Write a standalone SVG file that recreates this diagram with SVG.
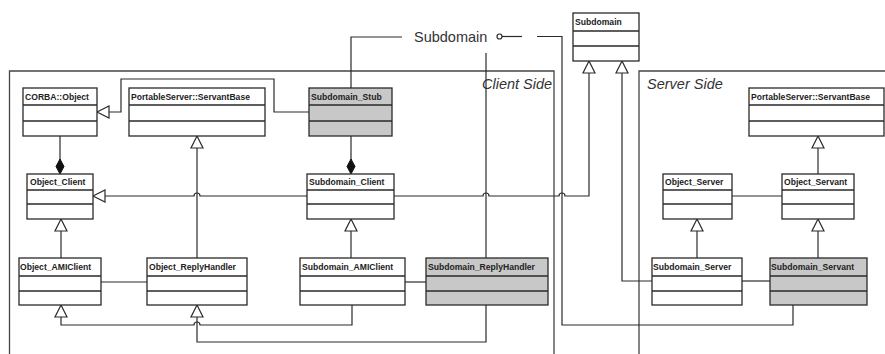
<svg xmlns="http://www.w3.org/2000/svg" width="885" height="354" viewBox="0 0 885 354">
  <style>
    .box { fill: #ffffff; stroke: #2a2a2a; stroke-width: 1.3; }
    .stub { fill: #c8c8c8; }
    .div { stroke: #2a2a2a; stroke-width: 1.3; fill: none; }
    .name { font-family: "Liberation Sans", Arial, sans-serif; font-weight: bold; font-size: 8.6px; fill: #222; }
    .line { fill: none; stroke: #2a2a2a; stroke-width: 1.2; }
    .frame { fill: none; stroke: #444; stroke-width: 1.3; }
    .gen { fill: #ffffff; stroke: #2a2a2a; stroke-width: 1.2; }
    .comp { fill: #111; stroke: #111; stroke-width: 1; }
    .side { font-family: "Liberation Sans", Arial, sans-serif; font-style: italic; font-size: 14.5px; fill: #333; }
    .iface { font-family: "Liberation Sans", Arial, sans-serif; font-size: 14.5px; fill: #333; }
  </style>
  <defs>
    <!-- hollow triangle, tip at origin pointing up -->
    <path id="triUp" d="M0,0 L6,12 L-6,12 Z"/>
    <!-- filled diamond, bottom tip at origin -->
    <path id="diamond" d="M0,0 L4,-7.5 L0,-15 L-4,-7.5 Z"/>
  </defs>

  <!-- package frames -->
  <g id="client-side">
    <path class="frame" d="M9.5,354 V71 H554 V354"/>
    <text class="side" x="482" y="88.5">Client Side</text>
  </g>
  <g id="server-side">
    <path class="frame" d="M639,354 V71 H885"/>
    <text class="side" x="647" y="88.5">Server Side</text>
  </g>

  <!-- connectors -->
  <g id="connectors">
    <!-- Subdomain_Stub -> CORBA::Object -->
    <path class="line" d="M309,112 H274 V79 H121 V112 H109"/>
    <path class="gen" d="M97,112 L109,106 L109,118 Z"/>
    <!-- CORBA::Object <>- Object_Client -->
    <path class="line" d="M60,136 V160"/>
    <use href="#diamond" class="comp" x="60" y="174"/>
    <!-- Subdomain_Stub <>- Subdomain_Client -->
    <path class="line" d="M351,136 V160"/>
    <use href="#diamond" class="comp" x="351" y="174"/>
    <!-- Subdomain_Client -> Object_Client -->
    <path class="line" d="M104,196 H194 A3,3 0 0 1 200,196 H307"/>
    <path class="gen" d="M93,196 L105,190 L105,202 Z"/>
    <!-- Object_ReplyHandler -> PortableServer::ServantBase -->
    <path class="line" d="M197,258 V148"/>
    <use href="#triUp" class="gen" x="197" y="136"/>
    <!-- Object_AMIClient -> Object_Client -->
    <path class="line" d="M61,258 V231"/>
    <use href="#triUp" class="gen" x="61" y="219"/>
    <!-- Object_AMIClient - Object_ReplyHandler -->
    <path class="line" d="M101,282 H147"/>
    <!-- Subdomain_AMIClient -> Object_AMIClient -->
    <path class="line" d="M352,305 V325 H200 A3,3 0 0 0 194,325 H61 V317"/>
    <use href="#triUp" class="gen" x="61" y="305"/>
    <!-- Subdomain_ReplyHandler -> Object_ReplyHandler -->
    <path class="line" d="M486,305 V342 H197 V317"/>
    <use href="#triUp" class="gen" x="197" y="305"/>
    <!-- Subdomain_AMIClient -> Subdomain_Client -->
    <path class="line" d="M351,258 V231"/>
    <use href="#triUp" class="gen" x="351" y="219"/>
    <!-- Subdomain_AMIClient - Subdomain_ReplyHandler -->
    <path class="line" d="M405,282 H426"/>
    <!-- Subdomain_ReplyHandler up to the interface -->
    <path class="line" d="M486,258 V53"/>
    <!-- Subdomain_Client -> Subdomain -->
    <path class="line" d="M394,196 H483 A3,3 0 0 1 489,196 H559 A3,3 0 0 1 565,196 H589 V73"/>
    <use href="#triUp" class="gen" x="589" y="61"/>
    <!-- Subdomain_Server -> Subdomain -->
    <path class="line" d="M652,281 H622 V73"/>
    <use href="#triUp" class="gen" x="622" y="61"/>
    <!-- Subdomain_Servant to the interface -->
    <path class="line" d="M793,305 V325 H562 V36.5 H537"/>
    <!-- Subdomain_Stub to the interface -->
    <path class="line" d="M351,88 V37 H402"/>
    <!-- lollipop -->
    <circle class="line" cx="499.5" cy="36.5" r="2.5"/>
    <path class="line" d="M502,36.5 H522"/>
    <!-- server side -->
    <path class="line" d="M818,174 V148"/>
    <use href="#triUp" class="gen" x="818" y="136"/>
    <path class="line" d="M732,196 H782"/>
    <path class="line" d="M697,258 V231"/>
    <use href="#triUp" class="gen" x="697" y="219"/>
    <path class="line" d="M818,258 V231"/>
    <use href="#triUp" class="gen" x="818" y="219"/>
    <path class="line" d="M742,281 H770"/>
  </g>

  <text class="iface" x="414" y="41.5">Subdomain</text>

  <!-- classes -->
  <g id="subdomain">
    <rect class="box" x="573" y="13" width="66" height="48"/>
    <path class="div" d="M573,31 H639 M573,46 H639"/>
    <text class="name" x="575" y="25">Subdomain</text>
  </g>
  <g id="corba-object">
    <rect class="box" x="23" y="88" width="74" height="48"/>
    <path class="div" d="M23,105 H97 M23,121 H97"/>
    <text class="name" x="25" y="99.5">CORBA::Object</text>
  </g>
  <g id="servant-base-client">
    <rect class="box" x="129" y="88" width="136" height="48"/>
    <path class="div" d="M129,105 H265 M129,121 H265"/>
    <text class="name" x="131" y="99.5">PortableServer::ServantBase</text>
  </g>
  <g id="subdomain-stub">
    <rect class="box stub" x="309" y="88" width="83" height="48"/>
    <path class="div" d="M309,105 H392 M309,121 H392"/>
    <text class="name" x="311" y="99.5">Subdomain_Stub</text>
  </g>
  <g id="servant-base-server">
    <rect class="box" x="749" y="88" width="135" height="48"/>
    <path class="div" d="M749,105 H884 M749,121 H884"/>
    <text class="name" x="751" y="99.5">PortableServer::ServantBase</text>
  </g>
  <g id="object-client">
    <rect class="box" x="27" y="174" width="66" height="45"/>
    <path class="div" d="M27,190 H93 M27,204 H93"/>
    <text class="name" x="30" y="185">Object_Client</text>
  </g>
  <g id="subdomain-client">
    <rect class="box" x="307" y="174" width="87" height="45"/>
    <path class="div" d="M307,190 H394 M307,204 H394"/>
    <text class="name" x="309" y="185">Subdomain_Client</text>
  </g>
  <g id="object-server">
    <rect class="box" x="663" y="174" width="69" height="45"/>
    <path class="div" d="M663,190 H732 M663,204 H732"/>
    <text class="name" x="665" y="185">Object_Server</text>
  </g>
  <g id="object-servant">
    <rect class="box" x="782" y="174" width="72" height="45"/>
    <path class="div" d="M782,190 H854 M782,204 H854"/>
    <text class="name" x="784" y="185">Object_Servant</text>
  </g>
  <g id="object-amiclient">
    <rect class="box" x="19" y="258" width="82" height="47"/>
    <path class="div" d="M19,276 H101 M19,291 H101"/>
    <text class="name" x="20" y="269.5">Object_AMIClient</text>
  </g>
  <g id="object-replyhandler">
    <rect class="box" x="147" y="258" width="100" height="47"/>
    <path class="div" d="M147,276 H247 M147,291 H247"/>
    <text class="name" x="149" y="269.5">Object_ReplyHandler</text>
  </g>
  <g id="subdomain-amiclient">
    <rect class="box" x="300" y="258" width="105" height="47"/>
    <path class="div" d="M300,276 H405 M300,291 H405"/>
    <text class="name" x="302" y="269.5">Subdomain_AMIClient</text>
  </g>
  <g id="subdomain-replyhandler">
    <rect class="box stub" x="426" y="258" width="122" height="47"/>
    <path class="div" d="M426,276 H548 M426,291 H548"/>
    <text class="name" x="428" y="269.5">Subdomain_ReplyHandler</text>
  </g>
  <g id="subdomain-server">
    <rect class="box" x="652" y="258" width="90" height="47"/>
    <path class="div" d="M652,276 H742 M652,291 H742"/>
    <text class="name" x="653" y="269.5">Subdomain_Server</text>
  </g>
  <g id="subdomain-servant">
    <rect class="box stub" x="770" y="258" width="97" height="47"/>
    <path class="div" d="M770,276 H867 M770,291 H867"/>
    <text class="name" x="771" y="269.5">Subdomain_Servant</text>
  </g>
</svg>
